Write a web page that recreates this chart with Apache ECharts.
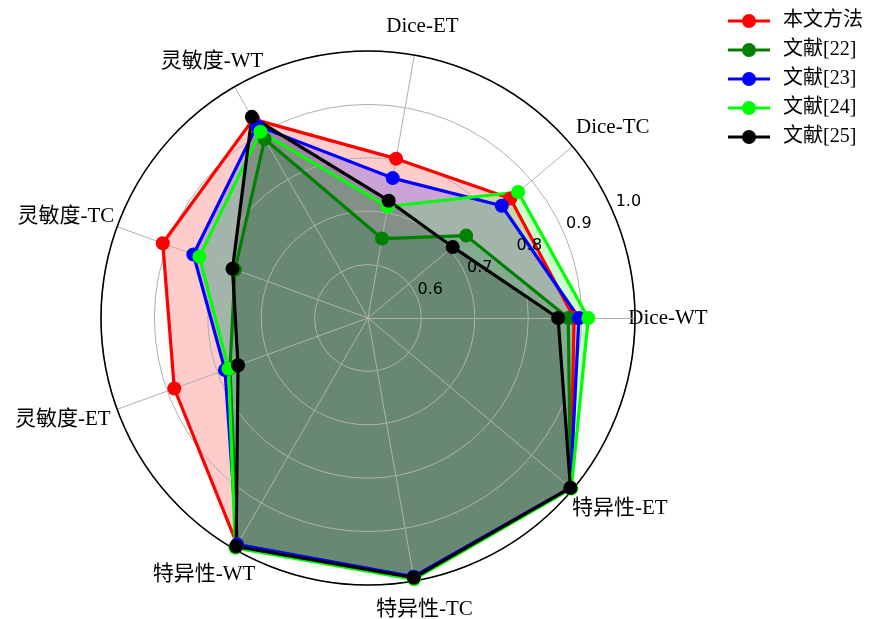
<!DOCTYPE html>
<html>
<head>
<meta charset="utf-8">
<script src="https://cdn.jsdelivr.net/npm/echarts@6/dist/echarts.min.js"></script>
<style>
  html, body { margin: 0; padding: 0; background: #ffffff; }
  #chart { width: 869px; height: 619px; }
</style>
</head>
<body>
<div id="chart"></div>
<script>
// Metric axes, counter-clockwise starting from the right
const indicators = ['Dice-WT', 'Dice-TC', 'Dice-ET', '灵敏度-WT', '灵敏度-TC', '灵敏度-ET', '特异性-WT', '特异性-TC', '特异性-ET'];

// Method names shown in the legend
const methodNames = ['本文方法', '文献[22]', '文献[23]', '文献[24]', '文献[25]'];

// Scores per method, in indicator order
const oursValues  = [0.886, 0.848, 0.803, 0.930, 0.909, 0.886, 0.990, 0.992, 0.995];
const ref22Values = [0.875, 0.740, 0.651, 0.887, 0.765, 0.775, 0.990, 0.992, 0.995];
const ref23Values = [0.895, 0.827, 0.766, 0.916, 0.848, 0.785, 0.990, 0.992, 0.995];
const ref24Values = [0.9125, 0.867, 0.712, 0.903, 0.836, 0.778, 0.997, 0.997, 0.997];
const ref25Values = [0.856, 0.707, 0.723, 0.935, 0.770, 0.759, 0.994, 0.994, 0.995];

// Radial tick labels
const radialTicks = ['0.6', '0.7', '0.8', '0.9', '1.0'];

const rMin = 0.5, rMax = 1.0;

const seriesValues = [oursValues, ref22Values, ref23Values, ref24Values, ref25Values];
const colors = ['#ff0000', '#008000', '#0000ff', '#00ff00', '#000000'];

const CX = 368, CY = 318, R = 267;
const nameFont = "'Liberation Serif', 'Noto Sans CJK SC', serif";

// horizontal offsets (px) so each name sits centred off its spoke
const nameShiftX = [4, 18, 3, -8, -24, -27, -16, 5, 25];
function shiftPadding(dx) {
  return [0, Math.max(-2 * dx, 0), 0, Math.max(2 * dx, 0)];
}

// legend glyph: a short line with a dot in the middle
const legendIcon = 'path://M0,5.5H42V8.5H0Z M14,7A7,7 0 1 1 28,7A7,7 0 1 1 14,7Z';

const chart = echarts.init(document.getElementById('chart'), null, { renderer: 'canvas' });

const option = {
  animation: false,
  backgroundColor: '#ffffff',
  color: colors,
  legend: {
    orient: 'vertical',
    left: 728,
    top: 11,
    padding: 0,
    itemWidth: 42,
    itemHeight: 14,
    itemGap: 9,
    icon: legendIcon,
    data: methodNames,
    textStyle: { fontFamily: nameFont, fontSize: 20, color: '#000', padding: [0, 0, 0, 8] }
  },
  radar: {
    // grid sits above the translucent fills but below the lines
    z: 1.5,
    center: [CX, CY],
    radius: R,
    startAngle: 0,
    shape: 'circle',
    splitNumber: 5,
    indicator: indicators.map(n => ({ name: n, min: rMin, max: rMax })),
    axisName: { show: false },
    axisLine: { lineStyle: { color: '#b0b0b0', width: 1 } },
    splitLine: { lineStyle: { color: '#b0b0b0', width: 1 } },
    splitArea: { show: false },
    axisTick: { show: false },
    axisLabel: { show: false }
  },
  polar: [
    // outer frame circle
    { center: [CX, CY], radius: R },
    // radial tick labels along a slanted ray
    { center: [CX, CY], radius: [14, 285] },
    // indicator names around the frame (large radius keeps every name centred)
    { center: [CX, CY], radius: 3000 }
  ],
  angleAxis: [
    {
      polarIndex: 0, type: 'value', min: 0, max: 360, startAngle: 0, z: 1.6,
      axisLine: { show: true, lineStyle: { color: '#000', width: 1.6 } },
      axisTick: { show: false }, axisLabel: { show: false }, splitLine: { show: false }
    },
    {
      polarIndex: 1, type: 'value', min: 0, max: 360, startAngle: 24,
      axisLine: { show: false }, axisTick: { show: false }, axisLabel: { show: false }, splitLine: { show: false }
    },
    {
      polarIndex: 2, type: 'category', startAngle: 0, clockwise: false, boundaryGap: false,
      data: indicators.map((n, i) => ({ value: n, textStyle: { padding: shiftPadding(nameShiftX[i]) } })),
      axisLine: { show: false }, axisTick: { show: false }, splitLine: { show: false },
      axisLabel: { show: true, margin: -2704, fontFamily: nameFont, fontSize: 21, color: '#000' }
    }
  ],
  radiusAxis: [
    { polarIndex: 0, show: false, min: rMin, max: rMax },
    {
      polarIndex: 1, min: rMin, max: rMax, interval: 0.1, z: 3,
      axisLine: { show: false }, axisTick: { show: false }, splitLine: { show: false },
      axisLabel: {
        show: true, showMinLabel: false, margin: 0, align: 'center', verticalAlign: 'middle',
        fontFamily: "'DejaVu Sans', sans-serif", fontSize: 16, color: '#000',
        formatter: function (v) {
          const idx = Math.round((v - 0.6) / 0.1);
          return idx >= 0 && idx < radialTicks.length ? radialTicks[idx] : '';
        }
      }
    },
    { polarIndex: 2, show: false, min: 0, max: 1 }
  ],
  series: [
    // translucent fills, underneath the grid
    {
      type: 'radar',
      name: 'fills',
      z: 1,
      silent: true,
      symbol: 'none',
      emphasis: { disabled: true },
      data: seriesValues.map((vals, i) => ({
        name: methodNames[i],
        value: vals,
        itemStyle: { color: colors[i] },
        lineStyle: { width: 0, opacity: 0 },
        areaStyle: { color: colors[i], opacity: 0.2 }
      }))
    },
    // outlines with markers, above the grid
    {
      type: 'radar',
      name: 'outlines',
      z: 2,
      silent: true,
      symbol: 'circle',
      symbolSize: 14,
      emphasis: { disabled: true },
      data: seriesValues.map((vals, i) => ({
        name: methodNames[i],
        value: vals,
        itemStyle: { color: colors[i] },
        lineStyle: { color: colors[i], width: 3.2 }
      }))
    }
  ]
};

chart.setOption(option);
</script>
</body>
</html>
